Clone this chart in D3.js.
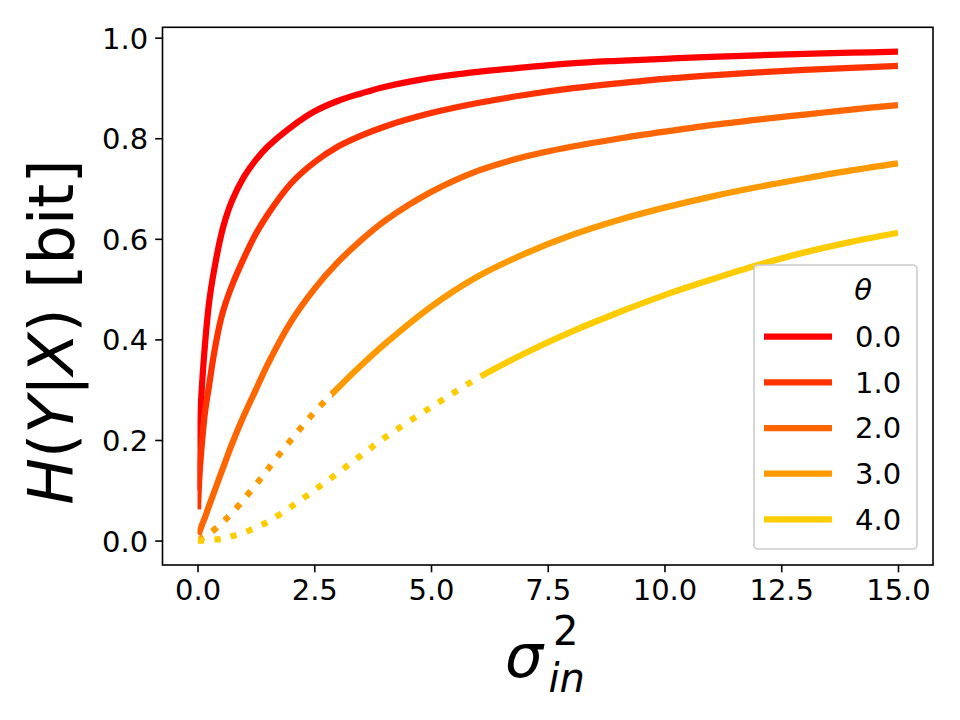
<!DOCTYPE html>
<html>
<head>
<meta charset="utf-8">
<script src="https://cdn.jsdelivr.net/npm/d3@7"></script>
<style>
  body { margin: 0; background: #fff; }
  svg text { font-family: "DejaVu Sans", sans-serif; fill: #000; }
</style>
</head>
<body>
<svg id="chart" width="960" height="720"></svg>
<script>
// values
const sigma = [0.01, 0.03, 0.06, 0.1, 0.16, 0.25, 0.35, 0.5, 0.6, 0.75, 1, 1.25, 1.5, 2, 2.5, 3, 3.5, 4, 5, 6, 7, 8, 9, 10, 11, 12, 13, 14, 15];
const thetaLabels = ["0.0", "1.0", "2.0", "3.0", "4.0"];
const colors = ["#ff0000", "#ff3300", "#ff6600", "#ff9900", "#ffcc00"];
const H0 = [0.10, 0.18, 0.25, 0.315, 0.39, 0.475, 0.535, 0.605, 0.64, 0.678, 0.724, 0.757, 0.783, 0.822, 0.853, 0.874, 0.889, 0.902, 0.92, 0.932, 0.941, 0.949, 0.954, 0.958, 0.962, 0.965, 0.968, 0.970, 0.972];
const H1 = [0.062, 0.11, 0.155, 0.20, 0.255, 0.31, 0.37, 0.44, 0.472, 0.51, 0.563, 0.61, 0.648, 0.71, 0.752, 0.783, 0.805, 0.823, 0.85, 0.87, 0.886, 0.899, 0.909, 0.918, 0.925, 0.931, 0.936, 0.940, 0.944];
const H2 = [0.012, 0.015, 0.022, 0.032, 0.046, 0.07, 0.095, 0.133, 0.158, 0.195, 0.25, 0.30, 0.35, 0.435, 0.50, 0.553, 0.597, 0.635, 0.693, 0.735, 0.763, 0.783, 0.799, 0.813, 0.826, 0.837, 0.847, 0.857, 0.866];
const H3 = [0.002, 0.002, 0.003, 0.005, 0.008, 0.014, 0.021, 0.033, 0.042, 0.056, 0.083, 0.111, 0.141, 0.2, 0.255, 0.303, 0.348, 0.39, 0.465, 0.525, 0.57, 0.607, 0.637, 0.662, 0.684, 0.703, 0.72, 0.736, 0.75];
const H4 = [0, 0, 0, 0, 0, 0.001, 0.002, 0.003, 0.005, 0.009, 0.016, 0.026, 0.037, 0.067, 0.1, 0.134, 0.169, 0.204, 0.265, 0.323, 0.372, 0.415, 0.453, 0.488, 0.519, 0.548, 0.573, 0.594, 0.612];
// below this sigma the curve is drawn dotted
const solidFrom = [0, 0, 0, 2.88, 6.09];
const xTicks = [0, 2.5, 5, 7.5, 10, 12.5, 15];
const yTicks = [0, 0.2, 0.4, 0.6, 0.8, 1.0];

const series = [H0, H1, H2, H3, H4];

// layout
const plotL = 162.5, plotR = 933, plotT = 27.3, plotB = 565;

const svg = d3.select('#chart');

const x = d3.scaleLinear().domain([-0.75, 15.75]).range([plotL, plotR]);
const y = d3.scaleLinear().domain([-0.0486, 1.0206]).range([plotB, plotT]);

// axes
const xAxis = svg.append('g')
    .attr('transform', 'translate(0,' + plotB + ')')
    .call(d3.axisBottom(x).tickValues(xTicks).tickFormat(d3.format('.1f')).tickSize(7.3).tickPadding(7));
const yAxis = svg.append('g')
    .attr('transform', 'translate(' + plotL + ',0)')
    .call(d3.axisLeft(y).tickValues(yTicks).tickFormat(d3.format('.1f')).tickSize(7.3).tickPadding(7));

[xAxis, yAxis].forEach(function (g) {
    g.select('.domain').remove();
    g.selectAll('.tick line').attr('stroke', '#000').attr('stroke-width', 1.6);
    g.selectAll('.tick text').style('font-size', '29px').attr('fill', '#000');
});
xAxis.selectAll('.tick text').attr('dy', '0.71em');
yAxis.selectAll('.tick text').attr('dy', '0.36em');

// clip paths splitting dotted and solid parts
const defs = svg.append('defs');
series.forEach(function (s, i) {
    defs.append('clipPath').attr('id', 'dot' + i)
        .append('rect').attr('x', plotL).attr('y', plotT)
        .attr('width', x(solidFrom[i]) - plotL).attr('height', plotB - plotT);
    defs.append('clipPath').attr('id', 'sol' + i)
        .append('rect').attr('x', x(solidFrom[i])).attr('y', plotT)
        .attr('width', plotR - x(solidFrom[i])).attr('height', plotB - plotT);
});

const line = d3.line()
    .x(function (d) { return x(d[0]); })
    .y(function (d) { return y(d[1]); })
    .curve(d3.curveCatmullRom.alpha(0.5));

series.forEach(function (s, i) {
    const pts = sigma.map(function (v, j) { return [v, s[j]]; });
    if (solidFrom[i] > 0) {
        svg.append('path')
            .datum(pts)
            .attr('clip-path', 'url(#dot' + i + ')')
            .attr('fill', 'none')
            .attr('stroke', colors[i])
            .attr('stroke-width', 6.25)
            .attr('stroke-dasharray', '6.25,10.3')
            .attr('d', line);
    }
    svg.append('path')
        .datum(pts)
        .attr('clip-path', 'url(#sol' + i + ')')
        .attr('fill', 'none')
        .attr('stroke', colors[i])
        .attr('stroke-width', 6.25)
        .attr('d', line);
});

// frame
svg.append('rect')
    .attr('x', plotL).attr('y', plotT)
    .attr('width', plotR - plotL).attr('height', plotB - plotT)
    .attr('fill', 'none').attr('stroke', '#000').attr('stroke-width', 1.6);

// axis labels
svg.append('text')
    .attr('transform', 'translate(73,332) rotate(-90)')
    .attr('text-anchor', 'middle')
    .style('font-size', '62px')
    .html('<tspan font-style="italic">H</tspan>(<tspan font-style="italic">Y</tspan>|<tspan font-style="italic">X</tspan>) [bit]');

// sigma^2_in as one text with stacked super/subscript
svg.append('text')
    .attr('x', 505).attr('y', 677)
    .html('<tspan style="font-size:60px;font-style:italic">σ</tspan>' +
          '<tspan style="font-size:40px" dx="10" dy="-32">2</tspan>' +
          '<tspan style="font-size:40px;font-style:italic" dx="-30" dy="47">in</tspan>');

// legend
const legend = svg.append('g');
legend.append('rect')
    .attr('x', 754).attr('y', 265)
    .attr('width', 163).attr('height', 284)
    .attr('rx', 4)
    .attr('fill', '#fff').attr('fill-opacity', 0.8)
    .attr('stroke', '#cccccc').attr('stroke-width', 1.6);
legend.append('text')
    .attr('x', 863).attr('y', 300)
    .attr('text-anchor', 'middle')
    .style('font-size', '29px').style('font-style', 'italic')
    .text('θ');
thetaLabels.forEach(function (lab, i) {
    const ly = 336.7 + i * 45.65;
    legend.append('line')
        .attr('x1', 764).attr('x2', 832)
        .attr('y1', ly).attr('y2', ly)
        .attr('stroke', colors[i]).attr('stroke-width', 6.25);
    legend.append('text')
        .attr('x', 855).attr('y', ly)
        .attr('dy', '0.36em')
        .style('font-size', '29px')
        .text(lab);
});
</script>
</body>
</html>
